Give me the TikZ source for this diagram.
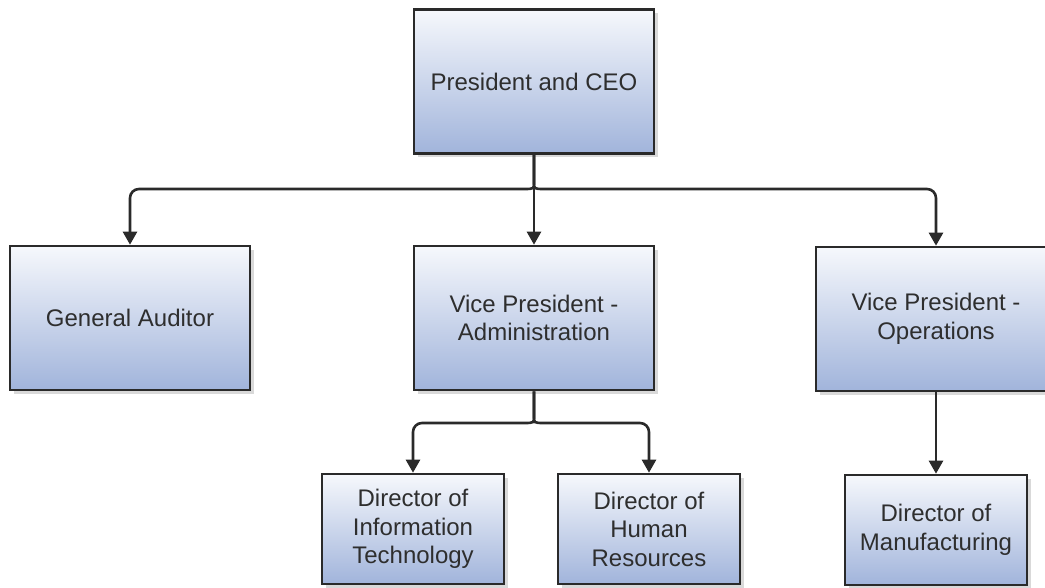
\documentclass[tikz,border=0pt]{standalone}
\usepackage{fontspec}
\setmainfont{Liberation Sans}
\usetikzlibrary{arrows.meta,shadows}
\definecolor{boxtop}{HTML}{F6F8FC}
\definecolor{boxbot}{HTML}{A1B4DB}
\definecolor{edge}{HTML}{2A2A2A}
\definecolor{txt}{HTML}{2E2E2E}
\tikzset{
  orgbox/.style={draw=edge, line width=2.6pt, top color=boxtop, bottom color=boxbot,
    drop shadow={shadow xshift=4pt, shadow yshift=-4pt, fill=black, opacity=0.15},
    align=center, text=txt, font=\fontsize{24}{28.5}\selectfont, inner sep=0pt},
  bigbox/.style={orgbox, minimum width=240pt, minimum height=144pt},
  smallbox/.style={orgbox, minimum width=182pt, minimum height=110pt},
  conn/.style={draw=edge, line width=2.6pt, -{Triangle[width=14pt,length=13pt]}}
}
\begin{document}
\begin{tikzpicture}[x=1pt,y=-1pt]
\useasboundingbox (0,0) rectangle (1045,588);
\node[bigbox] (ceo) at (534,81.5) {President and CEO};
\node[bigbox] (ga) at (130,318) {General Auditor};
\node[bigbox] (vpa) at (534,318) {Vice President -\\Administration};
\node[bigbox] (vpo) at (936,319) {Vice President -\\Operations};
\node[smallbox] (dit) at (413,529) {Director of\\Information\\Technology};
\node[smallbox] (dhr) at (649,529) {Director of\\Human\\Resources};
\node[smallbox] (dmf) at (936,530) {Director of\\Manufacturing};
\coordinate (j1) at (534,189);
\coordinate (j1a) at (534,182);
\coordinate (j1l) at (524,189);
\coordinate (j1r) at (544,189);
\coordinate (j2) at (534,423);
\coordinate (j2a) at (534,416);
\coordinate (j2l) at (524,423);
\coordinate (j2r) at (544,423);
\draw[conn] (ceo.south) -- (j1a) .. controls (j1) .. (j1l) [rounded corners=9pt] -- (ga.north |- j1) -- (ga.north);
\draw[conn] (ceo.south) -- (j1a) .. controls (j1) .. (j1r) [rounded corners=9pt] -- (vpo.north |- j1) -- (vpo.north);
\draw[conn] (ceo.south) -- (vpa.north);
\draw[conn] (vpa.south) -- (j2a) .. controls (j2) .. (j2l) [rounded corners=9pt] -- (dit.north |- j2) -- (dit.north);
\draw[conn] (vpa.south) -- (j2a) .. controls (j2) .. (j2r) [rounded corners=9pt] -- (dhr.north |- j2) -- (dhr.north);
\draw[conn] (vpo.south) -- (dmf.north);
\end{tikzpicture}
\end{document}
